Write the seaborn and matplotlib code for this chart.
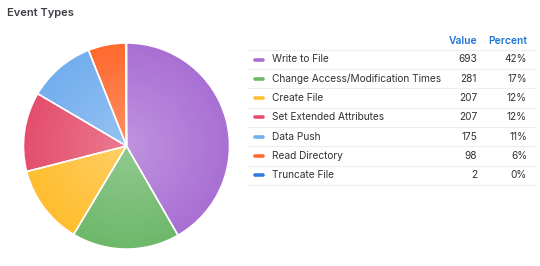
import numpy as np
import matplotlib
matplotlib.use("Agg")
import matplotlib.pyplot as plt
from matplotlib.patches import Wedge
import seaborn as sns
from matplotlib.colors import to_rgb

# Event counts by type
categories = ["Write to File", "Change Access/Modification Times", "Create File",
              "Set Extended Attributes", "Data Push", "Read Directory", "Truncate File"]
values = [693, 281, 207, 207, 175, 98, 2]
colors = ["#A96FD4", "#6DB86A", "#FFBE30", "#E44E6C", "#73AEEE", "#FF6A2E", "#2F7BE0"]
headers = ["Value", "Percent"]
title = "Event Types"

sns.set_theme(style="white")
plt.rcParams["font.family"] = ["Inter", "DejaVu Sans"]

W, H = 540, 266
fig = plt.figure(figsize=(W / 100, H / 100), dpi=100)
fig.patch.set_facecolor("white")

# Pie axes placed by pixel geometry
cx, cy, r = 126.5, 146, 103
ax = fig.add_axes([(cx - r) / W, (H - cy - r) / H, 2 * r / W, 2 * r / H])
wedges, _ = ax.pie(values, colors=colors, startangle=90, counterclock=False,
                   radius=1.0, wedgeprops=dict(edgecolor="white", linewidth=1.1))
ax.set_xlim(-1.0, 1.0)
ax.set_ylim(-1.0, 1.0)
ax.set_aspect("equal")
ax.axis("off")

# Radial shading: lighter toward the centre of the pie
n = 300
xs = np.linspace(-1, 1, n)
X, Y = np.meshgrid(xs, xs)
R = np.clip(np.sqrt(X ** 2 + Y ** 2), 0, 1)[..., None]
for w, c in zip(wedges, colors):
    base = np.array(to_rgb(c))
    light = base + (1 - base) * 0.25
    img = light * (1 - R) + base * R
    im = ax.imshow(img, extent=(-1, 1, -1, 1), origin="lower", zorder=w.get_zorder() + 0.1,
                   interpolation="bilinear")
    im.set_clip_path(w)
    edge = Wedge(w.center, w.r, w.theta1, w.theta2, facecolor="none",
                 edgecolor="white", linewidth=1.1, zorder=w.get_zorder() + 0.2)
    ax.add_patch(edge)
ax.set_xlim(-1.0, 1.0)
ax.set_ylim(-1.0, 1.0)

# Title
fig.text(7 / W, 1 - 12.5 / H, title, fontsize=8, fontweight="semibold",
         color="#3F3F46", va="center", ha="left")

# Legend table drawn in pixel coordinates
tx = fig.add_axes([0, 0, 1, 1])
tx.set_xlim(0, W)
tx.set_ylim(H, 0)
tx.axis("off")

x0, x1 = 247, 535
val_x, pct_x = 477, 527
header_y = 41
row0, step = 59.5, 19.3
hdr_color = "#1F74D6"
txt_color = "#333333"

tx.text(val_x, header_y, headers[0], ha="right", va="center", fontsize=7.4,
        color=hdr_color, fontweight="semibold")
tx.text(pct_x, header_y, headers[1], ha="right", va="center", fontsize=7.4,
        color=hdr_color, fontweight="semibold")

total = sum(values)
for i, (cat, v, c) in enumerate(zip(categories, values, colors)):
    y = row0 + i * step
    tx.plot([x0, x1], [y - step / 2, y - step / 2], color="#EEEEEE", lw=0.8,
            solid_capstyle="butt")
    tx.plot([255, 263], [y, y], color=c, lw=2.6, solid_capstyle="round")
    tx.text(272, y, cat, ha="left", va="center", fontsize=7.3, color=txt_color)
    tx.text(val_x, y, f"{v}", ha="right", va="center", fontsize=7.3, color=txt_color)
    tx.text(pct_x, y, f"{round(100 * v / total)}%", ha="right", va="center",
            fontsize=7.3, color=txt_color)
y_end = row0 + len(categories) * step - step / 2
tx.plot([x0, x1], [y_end, y_end], color="#EEEEEE", lw=0.8, solid_capstyle="butt")

fig.savefig("out.png", dpi=100, facecolor="white")
